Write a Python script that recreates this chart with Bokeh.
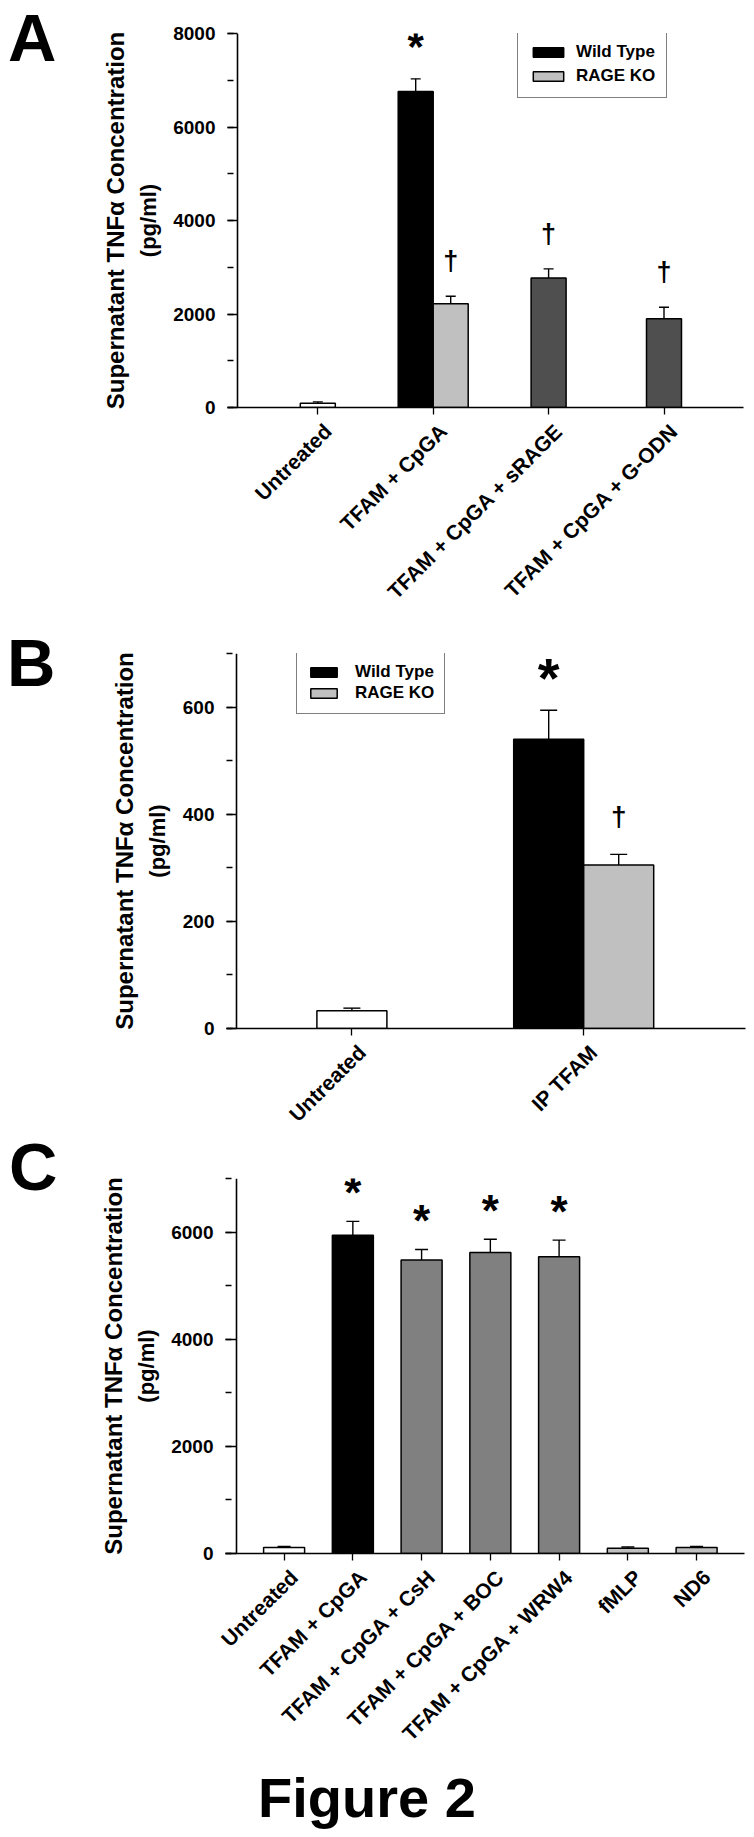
import math
from bokeh.plotting import figure
from bokeh.models import (FixedTicker, SingleIntervalTicker, Whisker, TeeHead, LinearAxis, Span,
                          ColumnDataSource, Legend, LegendItem, Range1d, Title, Div)
from bokeh.layouts import column, row
from bokeh.embed import file_html
from bokeh.resources import INLINE
from bokeh.core.properties import value

FONT = "Liberation Sans"

# ---------------- data ----------------
# Panel A
a_categories = ["Untreated", "TFAM + CpGA", "TFAM + CpGA + sRAGE", "TFAM + CpGA + G-ODN"]
a_bar_category = ["Untreated", "TFAM + CpGA", "TFAM + CpGA", "TFAM + CpGA + sRAGE", "TFAM + CpGA + G-ODN"]
a_bar_series = ["Untreated", "Wild Type", "RAGE KO", "Treated", "Treated"]
a_values = [90, 6760, 2220, 2770, 1900]
a_errors = [30, 270, 160, 195, 245]
a_marks = ["", "*", "\u2020", "\u2020", "\u2020"]

# Panel B
b_categories = ["Untreated", "IP TFAM"]
b_bar_category = ["Untreated", "IP TFAM", "IP TFAM"]
b_bar_series = ["Untreated", "Wild Type", "RAGE KO"]
b_values = [33, 540, 305]
b_errors = [5, 54, 20]
b_marks = ["", "*", "\u2020"]

# Panel C
c_categories = ["Untreated", "TFAM + CpGA", "TFAM + CpGA + CsH", "TFAM + CpGA + BOC",
                "TFAM + CpGA + WRW4", "fMLP", "ND6"]
c_bar_category = list(c_categories)
c_bar_series = ["Untreated", "Wild Type", "Inhibitor", "Inhibitor", "Inhibitor", "Peptide", "Peptide"]
c_values = [110, 5940, 5480, 5620, 5540, 100, 110]
c_errors = [20, 260, 195, 245, 310, 20, 20]
c_marks = ["", "*", "*", "*", "*", "", ""]

Y_TITLE = "Supernatant TNF\u03b1 Concentration"
Y_UNITS = "(pg/ml)"
FIG_TITLE = "Figure 2"

# ---------------- styles ----------------
COLORS_A = {"Untreated": "white", "Wild Type": "black", "RAGE KO": "#c0c0c0", "Treated": "#4f4f4f"}
COLORS_B = {"Untreated": "white", "Wild Type": "black", "RAGE KO": "#c0c0c0"}
COLORS_C = {"Untreated": "white", "Wild Type": "black", "Inhibitor": "#808080", "Peptide": "#c0c0c0"}

PAGE_W = 754
LETTER_W = 60
FIG_W = PAGE_W - LETTER_W


def bar_positions(categories, bar_category, width):
    pos = []
    for i, cat in enumerate(bar_category):
        members = [j for j, c in enumerate(bar_category) if c == cat]
        k = members.index(i)
        n = len(members)
        center = categories.index(cat) + 1
        pos.append(center + (k - (n - 1) / 2) * width)
    return pos


def make_panel(g, cats, bar_cat, series, vals, errs, marks, y_max, y_step, colors,
               legend_cfg=None, mark_style=None):
    sp = g["spacing"]
    x0 = 1 + (g["f_left"] - g["tick1"]) / sp
    x1 = 1 + (g["f_right"] - g["tick1"]) / sp
    x_axis_pos = 1 + (g["axis_x"] - g["tick1"]) / sp
    w = g["bar_px"] / sp
    p = figure(width=FIG_W, height=g["height"], title=None,
               x_range=Range1d(x0, x1), y_range=Range1d(0, y_max),
               output_backend="svg", toolbar_location=None,
               min_border_left=g["f_left"] - LETTER_W,
               min_border_right=PAGE_W - g["f_right"],
               min_border_top=g["f_top"] - g["top"],
               min_border_bottom=g["top"] + g["height"] - g["f_bottom"])
    p.outline_line_color = None
    p.xgrid.visible = False
    p.ygrid.visible = False
    p.background_fill_color = "white"
    p.border_fill_color = "white"

    # x axis: ticks at the bars (its line runs a little past the y axis, as in the original)
    xa = p.xaxis[0]
    xa.ticker = FixedTicker(ticks=list(range(1, len(cats) + 1)))
    xa.major_label_overrides = {i + 1: "" for i in range(len(cats))}
    xa.major_label_text_font_size = "0px"
    xa.major_label_standoff = 0
    xa.axis_line_width = 1.6
    xa.axis_line_color = "black"
    xa.major_tick_out = 7
    xa.major_tick_in = 0
    xa.major_tick_line_width = 1.3
    xa.minor_tick_out = 0
    xa.minor_tick_in = 0

    # category names on a second, label-only axis (shifted a few px right, like the original)
    shift = g["label_shift"] / sp
    p.extra_x_ranges = {"lab": Range1d(x0 - shift, x1 - shift)}
    la = LinearAxis(x_range_name="lab", ticker=FixedTicker(ticks=list(range(1, len(cats) + 1))),
                    major_label_overrides={i + 1: c for i, c in enumerate(cats)},
                    major_label_orientation=math.pi / 4,
                    major_label_text_font=FONT, major_label_text_font_style="bold",
                    major_label_text_font_size="21px", major_label_text_color="black",
                    major_label_standoff=g["xstandoff"],
                    axis_line_color=None, major_tick_line_color=None, minor_tick_line_color=None,
                    major_tick_out=0, major_tick_in=0, minor_tick_out=0, minor_tick_in=0)
    p.add_layout(la, "below")

    # y axis: ticks reach in from the frame edge to the y-axis line (drawn as a span)
    ya = p.yaxis[0]
    ya.ticker = SingleIntervalTicker(interval=y_step, num_minor_ticks=2)
    ya.major_label_text_font = FONT
    ya.major_label_text_font_style = "bold"
    ya.major_label_text_font_size = "19px"
    ya.major_label_text_color = "black"
    ya.major_label_standoff = 12
    ya.axis_line_color = None
    ya.major_tick_out = 0
    ya.major_tick_in = g["axis_x"] - g["f_left"]
    ya.minor_tick_out = 0
    ya.minor_tick_in = 6
    ya.major_tick_line_width = 1.3
    ya.minor_tick_line_width = 1.3
    p.add_layout(Span(location=x_axis_pos, dimension="height", line_color="black", line_width=1.6))
    # two-line y title: units line nearer the axis, main line outside it
    p.add_layout(Title(text=Y_UNITS, align="center", text_font=FONT, text_font_style="bold",
                       text_font_size="22px", text_color="black", standoff=g["pg_standoff"]), "left")
    p.add_layout(Title(text=Y_TITLE, align="center", text_font=FONT, text_font_style="bold",
                       text_font_size="24px", text_color="black", standoff=-10), "left")

    # bars
    xs = bar_positions(cats, bar_cat, w)
    renderers = {}
    for s in dict.fromkeys(series):
        idx = [i for i, v in enumerate(series) if v == s]
        src = ColumnDataSource(dict(x=[xs[i] for i in idx], top=[vals[i] for i in idx]))
        renderers[s] = p.vbar(x="x", top="top", bottom=0, width=w, source=src,
                              fill_color=colors[s], line_color="black", line_width=1.5)

    # error bars (upper only)
    esrc = ColumnDataSource(dict(base=xs, lower=vals, upper=[v + e for v, e in zip(vals, errs)]))
    p.add_layout(Whisker(source=esrc, base="base", lower="lower", upper="upper", dimension="height",
                         line_color="black", line_width=1.4, lower_head=None,
                         upper_head=TeeHead(size=g["tee"], line_width=1.4, line_color="black")))

    # significance marks
    for m, (fs, off) in (mark_style or {}).items():
        idx = [i for i, v in enumerate(marks) if v == m]
        if not idx:
            continue
        msrc = ColumnDataSource(dict(x=[xs[i] for i in idx],
                                     y=[vals[i] + errs[i] for i in idx],
                                     t=[marks[i] for i in idx]))
        p.text(x="x", y="y", text="t", source=msrc, text_font=value(FONT), text_font_style="bold",
               text_font_size=fs, text_align="center", text_baseline="alphabetic",
               y_offset=off, text_color="black")

    # legend
    if legend_cfg:
        items = [LegendItem(label=s, renderers=[renderers[s]]) for s in ("Wild Type", "RAGE KO")]
        leg = Legend(items=items, location=legend_cfg["loc"], orientation="vertical",
                     border_line_color="black", border_line_width=1.5, background_fill_color="white",
                     background_fill_alpha=1.0, padding=legend_cfg["padding"],
                     spacing=legend_cfg["spacing"], glyph_width=legend_cfg["gw"], glyph_height=12,
                     label_standoff=legend_cfg["standoff"], margin=0,
                     label_text_font=FONT, label_text_font_style="bold",
                     label_text_font_size="17px", label_text_color="black")
        p.add_layout(leg)
    return p


def letter_div(letter, height, pad_top, pad_left, line_h):
    html = ('<div style="font-family: \'Liberation Sans\', Arial, sans-serif; font-weight: bold; '
            'font-size: 67px; line-height: %dpx; color: black; padding-top: %dpx; padding-left: %dpx;">'
            '%s</div>' % (line_h, pad_top, pad_left, letter))
    return Div(text=html, width=LETTER_W, height=height, margin=0)


geo_a = dict(top=0, height=620, f_left=227, axis_x=237, f_right=743, f_top=33, f_bottom=407,
             tick1=317.3, spacing=115.4, bar_px=35, tee=10, xstandoff=13, label_shift=10,
             pg_standoff=20)
geo_b = dict(top=620, height=520, f_left=226, axis_x=236, f_right=745, f_top=653, f_bottom=1028,
             tick1=351.4, spacing=231.8, bar_px=70, tee=17, xstandoff=13, label_shift=10,
             pg_standoff=20)
geo_c = dict(top=1140, height=625, f_left=225, axis_x=236, f_right=744, f_top=1178, f_bottom=1553,
             tick1=283.6, spacing=68.75, bar_px=41, tee=13, xstandoff=13, label_shift=10,
             pg_standoff=20)

pa = make_panel(geo_a, a_categories, a_bar_category, a_bar_series, a_values, a_errors, a_marks,
                8000, 2000, COLORS_A,
                legend_cfg=dict(loc=(290, 309), padding=11, spacing=4, gw=38, standoff=9),
                mark_style={"*": ("42px", -32), "\u2020": ("27px", -35)})
pb = make_panel(geo_b, b_categories, b_bar_category, b_bar_series, b_values, b_errors, b_marks,
                700, 200, COLORS_B,
                legend_cfg=dict(loc=(70, 314), padding=10, spacing=1, gw=33, standoff=15),
                mark_style={"*": ("56px", -33), "\u2020": ("28px", -38)})
pc = make_panel(geo_c, c_categories, c_bar_category, c_bar_series, c_values, c_errors, c_marks,
                7000, 2000, COLORS_C,
                mark_style={"*": ("44px", -29)})

fig_title = Div(text=('<div style="font-family: \'Liberation Sans\', Arial, sans-serif; '
                      'font-weight: bold; font-size: 56px; line-height: 63px; color: black; '
                      'padding-top: 1px; padding-left: 258px;">%s</div>' % FIG_TITLE),
                width=PAGE_W, height=71, margin=0)

layout = column(
    row(letter_div("A", geo_a["height"], 0, 8, 75), pa, spacing=0),
    row(letter_div("B", geo_b["height"], 5, 7, 75), pb, spacing=0),
    row(letter_div("C", geo_c["height"], 3, 9, 48), pc, spacing=0),
    fig_title,
    spacing=0,
)
open("out.html", "w").write(file_html(layout, INLINE))
